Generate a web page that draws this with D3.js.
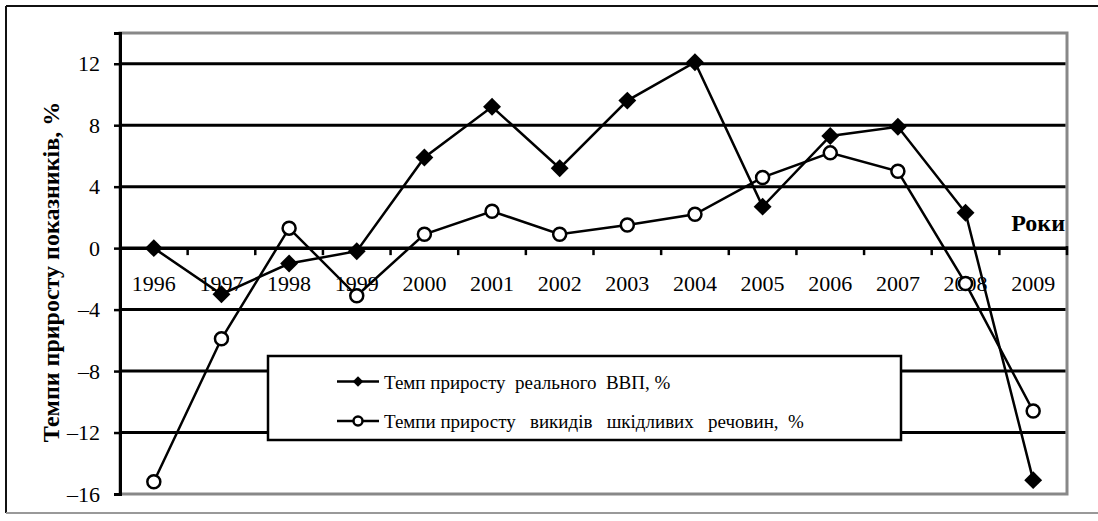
<!DOCTYPE html>
<html>
<head>
<meta charset="utf-8">
<script src="https://cdn.jsdelivr.net/npm/d3@7/dist/d3.min.js"></script>
<style>
  html, body { margin: 0; padding: 0; background: #fff; }
  svg { display: block; }
  text { font-family: "Liberation Serif", "Times New Roman", serif; fill: #000; }
</style>
</head>
<body>
<svg id="chart" width="1098" height="521"></svg>
<script>
const years = ["1996","1997","1998","1999","2000","2001","2002","2003","2004","2005","2006","2007","2008","2009"];
const gdpGrowth = [0, -3.0, -1.0, -0.2, 5.9, 9.2, 5.2, 9.6, 12.1, 2.7, 7.3, 7.9, 2.3, -15.1];
const emissionsGrowth = [-15.2, -5.9, 1.3, -3.1, 0.9, 2.4, 0.9, 1.5, 2.2, 4.6, 6.2, 5.0, -2.3, -10.6];
const yTicks = [-16, -12, -8, -4, 0, 4, 8, 12];
const seriesNames = ["Темп приросту  реального  ВВП, %", "Темпи приросту   викидів   шкідливих   речовин,  %"];
const yTitle = "Темпи приросту показників, %";
const xTitle = "Роки";

const svg = d3.select("#chart");
const W = 1098, H = 521;
const plot = { left: 120, top: 33, right: 1067, bottom: 494 };
const FONT = "Liberation Serif, Times New Roman, serif";

// outer frame
svg.append("line").attr("x1", 6).attr("x2", W).attr("y1", 6).attr("y2", 6).attr("stroke", "#111").attr("stroke-width", 2);
svg.append("line").attr("x1", 6).attr("x2", 6).attr("y1", 6).attr("y2", 513).attr("stroke", "#111").attr("stroke-width", 2);
svg.append("line").attr("x1", 6).attr("x2", W).attr("y1", 513).attr("y2", 513).attr("stroke", "#999").attr("stroke-width", 2);

const x = d3.scaleBand().domain(years).range([plot.left, plot.right]).paddingInner(0).paddingOuter(0);
const y = d3.scaleLinear().domain([-16, 14]).range([plot.bottom, plot.top]);

// plot border (gray)
svg.append("rect").attr("x", plot.left).attr("y", plot.top)
  .attr("width", plot.right - plot.left).attr("height", plot.bottom - plot.top)
  .attr("fill", "#fff").attr("stroke", "#888").attr("stroke-width", 3);

// gridlines
svg.append("g").selectAll("line").data(yTicks.filter(t => t !== 0 && t !== -16)).join("line")
  .attr("x1", plot.left).attr("x2", plot.right - 1.5)
  .attr("y1", d => y(d)).attr("y2", d => y(d))
  .attr("stroke", "#000").attr("stroke-width", 3);

// y axis
const yAxis = d3.axisLeft(y).tickValues(yTicks).tickSize(6).tickPadding(14)
  .tickFormat(d => d < 0 ? "\u2013" + Math.abs(d) : String(d));
const gy = svg.append("g").attr("transform", `translate(${plot.left},0)`).call(yAxis);
gy.attr("font-family", FONT);
gy.select(".domain").attr("stroke", "#000").attr("stroke-width", 3);
gy.selectAll(".tick line").attr("stroke", "#000").attr("stroke-width", 2.5);
gy.selectAll(".tick text").attr("font-family", FONT).attr("font-size", 22).attr("fill", "#000");

// x axis at 0
const xAxis = d3.axisBottom(x).tickSize(0).tickPadding(0);
const gx = svg.append("g").attr("transform", `translate(0,${y(0)})`).call(xAxis);
gx.attr("font-family", FONT);
gx.select(".domain").remove();
gx.selectAll(".tick text").attr("font-family", FONT).attr("font-size", 22).attr("fill", "#000")
  .attr("dy", null).attr("y", 43);
// zero line
svg.append("line").attr("x1", plot.left).attr("x2", plot.right).attr("y1", y(0)).attr("y2", y(0))
  .attr("stroke", "#000").attr("stroke-width", 3.5);
// boundary ticks
svg.append("g").selectAll("line").data(years.slice(1)).join("line")
  .attr("x1", d => x(d)).attr("x2", d => x(d))
  .attr("y1", y(0)).attr("y2", y(0) + 7)
  .attr("stroke", "#000").attr("stroke-width", 2.5);
svg.append("line").attr("x1", plot.right).attr("x2", plot.right).attr("y1", y(0) - 2).attr("y2", y(0) + 7)
  .attr("stroke", "#000").attr("stroke-width", 2.5);

// x title
svg.append("text").attr("x", plot.right - 2).attr("y", 231).attr("text-anchor", "end")
  .attr("font-size", 24).attr("font-weight", "bold").text(xTitle);

// y title
svg.append("text").attr("transform", `translate(59,${272}) rotate(-90)`).attr("text-anchor", "middle")
  .attr("font-size", 24).attr("font-weight", "bold").text(yTitle);

// legend
const lg = svg.append("g");
lg.append("rect").attr("x", 268).attr("y", 356).attr("width", 633).attr("height", 84)
  .attr("fill", "#fff").attr("stroke", "#000").attr("stroke-width", 2.5);
const rows = [381.5, 421];
rows.forEach((ry, i) => {
  lg.append("line").attr("x1", 337).attr("x2", 379).attr("y1", ry).attr("y2", ry).attr("stroke", "#000").attr("stroke-width", 2.5);
  if (i === 0) {
    lg.append("path").attr("d", d3.symbol(d3.symbolSquare, 55)()).attr("transform", `translate(358,${ry}) rotate(45)`).attr("fill", "#000");
  } else {
    lg.append("circle").attr("cx", 358).attr("cy", ry).attr("r", 4.5).attr("fill", "#fff").attr("stroke", "#000").attr("stroke-width", 2.5);
  }
  lg.append("text").attr("x", 384).attr("y", ry + 7).attr("font-size", 19).attr("xml:space", "preserve")
    .style("white-space", "pre").text(seriesNames[i]);
});

// series
const line = d3.line().x((d, i) => x(years[i]) + x.bandwidth() / 2).y(d => y(d));
svg.append("path").datum(emissionsGrowth).attr("d", line).attr("fill", "none").attr("stroke", "#000").attr("stroke-width", 2.5);
svg.append("path").datum(gdpGrowth).attr("d", line).attr("fill", "none").attr("stroke", "#000").attr("stroke-width", 2.5);

svg.append("g").selectAll("path").data(gdpGrowth).join("path")
  .attr("d", d3.symbol(d3.symbolSquare, 160)())
  .attr("transform", (d, i) => `translate(${x(years[i]) + x.bandwidth() / 2},${y(d)}) rotate(45)`)
  .attr("fill", "#000");
svg.append("g").selectAll("circle").data(emissionsGrowth).join("circle")
  .attr("cx", (d, i) => x(years[i]) + x.bandwidth() / 2).attr("cy", d => y(d))
  .attr("r", 6.5).attr("fill", "#fff").attr("stroke", "#000").attr("stroke-width", 2.5);
</script>
</body>
</html>
